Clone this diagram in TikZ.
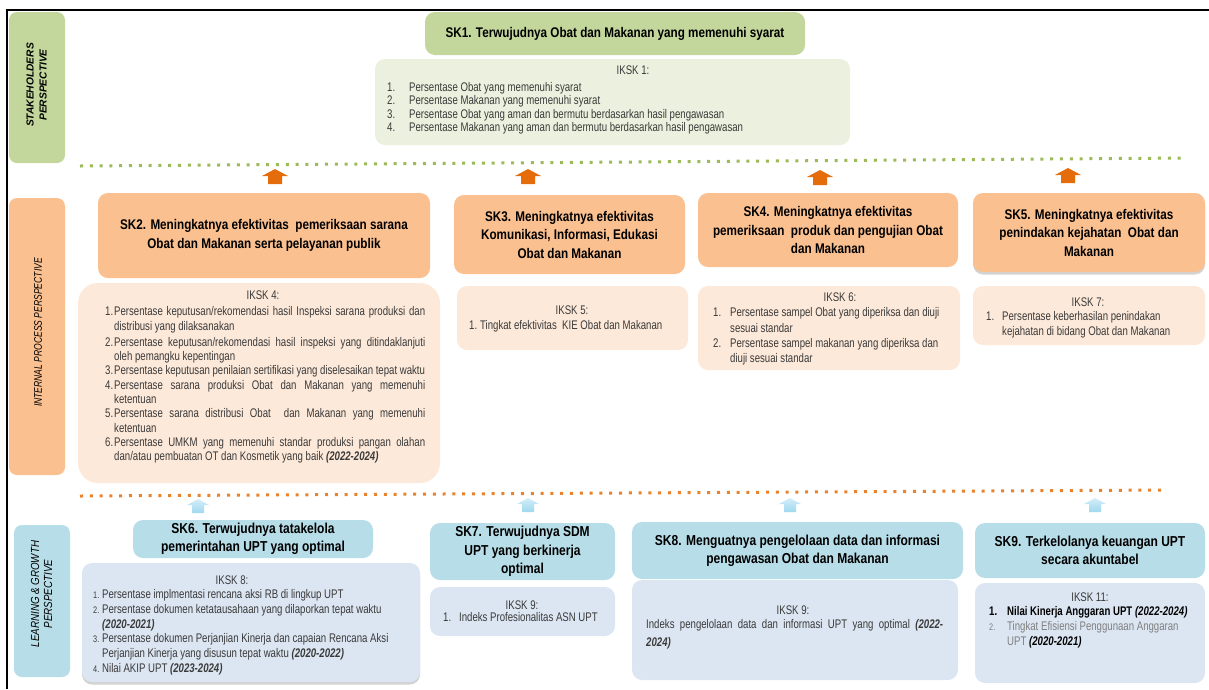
\documentclass[tikz,border=0pt]{standalone}
\usepackage{fontspec}
\setmainfont{Liberation Sans}[FakeStretch=0.77]
\newfontfamily\titlefont{Liberation Sans}[FakeStretch=0.835]
\newfontfamily\plainfont{Liberation Sans}
\usetikzlibrary{shadows}

\definecolor{skgreen}{HTML}{C3D69B}
\definecolor{ikgreen}{HTML}{EBF1DE}
\definecolor{skorange}{HTML}{FAC090}
\definecolor{ikorange}{HTML}{FDE9D9}
\definecolor{skblue}{HTML}{B7DEE8}
\definecolor{ikblue}{HTML}{DCE6F2}
\definecolor{arrorange}{HTML}{E46C0A}
\definecolor{arrblue}{HTML}{9FD8EF}
\definecolor{dotgreen}{HTML}{9BBB59}
\definecolor{dotorange}{HTML}{E9822C}
\definecolor{itemgrey}{HTML}{3A3A3A}
\definecolor{softgrey}{HTML}{7F7F7F}

\hyphenpenalty=10000
\exhyphenpenalty=10000
\tolerance=9999
\emergencystretch=20pt
\newcommand{\yr}[1]{\textbf{\textit{#1}}}
\newcommand{\num}[1]{{\fontsize{9.5}{10}\selectfont #1}}

\begin{document}
\begin{tikzpicture}[x=1pt,y=-1pt,
    persp/.style={rounded corners=8pt,inner sep=0pt},
    persptext/.style={rotate=90,align=center,inner sep=0pt},
    sk/.style={rounded corners=10pt,inner sep=0pt,align=center,font=\titlefont\bfseries\fontsize{14}{18.5}\selectfont},
    skbottom/.style={sk,font=\titlefont\bfseries\fontsize{14.4}{18.3}\selectfont},
    iksk/.style={rounded corners=10pt,inner sep=0pt},
    head/.style={inner sep=0pt,text=itemgrey,font=\fontsize{12.5}{14}\selectfont},
    list/.style={inner sep=0pt,anchor=north west,text=itemgrey,font=\fontsize{12.5}{#1}\selectfont},
    list/.default=13.4,
    greendots/.style={dotgreen,line width=3pt,dash pattern=on 3pt off 6.8pt},
    orangedots/.style={dotorange,line width=3pt,dash pattern=on 3pt off 6.8pt},
    orangeup/.pic={\fill[arrorange] (-13,7) -- (0,0) -- (13,7) -- (7,7) -- (7,15) -- (-7,15) -- (-7,7) -- cycle;},
    blueup/.pic={\shade[top color=arrblue!45,bottom color=arrblue] (-11,6) -- (0,0) -- (11,6) -- (6,6) -- (6,14) -- (-6,14) -- (-6,6) -- cycle;}]

  \useasboundingbox (0,0) rectangle (1209,689);
  \draw[line width=2pt] (7,689) -- (7,10) -- (1209,10);

  % perspectives
  \node[persp,fill=skgreen,minimum width=56pt,minimum height=151pt] (stake) at (37,87.5) {};
  \node[persptext,font=\plainfont\bfseries\itshape\fontsize{10.2}{13}\selectfont] (staketext) at (36.5,85)
    {STAKEHOLDERS\\PERSPECTIVE};
  \node[persp,fill=skorange,minimum width=56pt,minimum height=277pt] (intern) at (37,336.5) {};
  \node[persptext,font=\itshape\fontsize{11.1}{13}\selectfont] (interntext) at (38,332.5)
    {INTERNAL PROCESS PERSPECTIVE};
  \node[persp,fill=skblue,minimum width=56pt,minimum height=152pt] (learn) at (42,601) {};
  \node[persptext,font=\titlefont\itshape\fontsize{11.7}{13}\selectfont] (learntext) at (41.5,594)
    {LEARNING \& GROWTH\\PERSPECTIVE};

  % stakeholders
  \node[sk,fill=skgreen,minimum width=380pt,minimum height=43pt] (sk1) at (615,33.5)
    {SK1. Terwujudnya Obat dan Makanan yang memenuhi syarat};
  \node[iksk,fill=ikgreen,minimum width=475pt,minimum height=86pt] (ik1) at (612.5,102) {};
  \node[head] (ik1h) at (633,70) {IKSK 1:};
  \node[list=13.3] (ik1l) at (387,81.9)
    {\begin{tabular}{@{}p{22pt}@{}l@{}}
     1. & Persentase Obat yang memenuhi syarat\\
     2. & Persentase Makanan yang memenuhi syarat\\
     3. & Persentase Obat yang aman dan bermutu berdasarkan hasil pengawasan\\
     4. & Persentase Makanan yang aman dan bermutu berdasarkan hasil pengawasan
     \end{tabular}};

  \draw[greendots] (80,166) -- (1185,158);
  \pic at (275,169) {orangeup};
  \pic at (528,169) {orangeup};
  \pic at (820,170) {orangeup};
  \pic at (1068,168) {orangeup};

  % internal process
  \node[sk,fill=skorange,minimum width=332pt,minimum height=85pt] (sk2) at (264,235.5)
    {SK2. Meningkatnya efektivitas\ \ pemeriksaan sarana\\Obat dan Makanan serta pelayanan publik};
  \node[iksk,fill=ikorange,rounded corners=20pt,minimum width=362pt,minimum height=200pt] (ik4) at (259,383) {};
  \node[head] (ik4h) at (263,295) {IKSK 4:};
  \node[list=14.3] (ik4l) at (105,305.5)
    {\begin{tabular}{@{}p{9pt}@{}p{311pt}@{}}
     1. & Persentase keputusan/rekomendasi hasil Inspeksi sarana produksi dan\linebreak distribusi yang dilaksanakan\\[2pt]
     2. & Persentase keputusan/rekomendasi hasil inspeksi yang ditindaklanjuti\linebreak oleh pemangku kepentingan\\
     3. & Persentase keputusan penilaian sertifikasi yang diselesaikan tepat waktu\\
     4. & Persentase sarana produksi Obat dan Makanan yang memenuhi\linebreak ketentuan\\
     5. & Persentase sarana distribusi Obat\ \ dan Makanan yang memenuhi\linebreak ketentuan\\
     6. & Persentase UMKM yang memenuhi standar produksi pangan olahan\linebreak dan/atau pembuatan OT dan Kosmetik yang baik \yr{(2022-2024)}
     \end{tabular}};

  \node[sk,fill=skorange,minimum width=231pt,minimum height=79pt] (sk3) at (569.5,234.5)
    {SK3. Meningkatnya efektivitas\\Komunikasi, Informasi, Edukasi\\Obat dan Makanan};
  \node[iksk,fill=ikorange,minimum width=231pt,minimum height=64pt] (ik5) at (572.5,318) {};
  \node[head] (ik5h) at (572,310) {IKSK 5:};
  \node[list] (ik5l) at (469,320.1)
    {\begin{tabular}{@{}p{11pt}@{}l@{}}
     1. & Tingkat efektivitas\ \ KIE Obat dan Makanan
     \end{tabular}};

  \node[sk,fill=skorange,minimum width=260pt,minimum height=74pt] (sk4) at (828,230)
    {SK4. Meningkatnya efektivitas\\pemeriksaan\ \ produk dan pengujian Obat\\dan Makanan};
  \node[iksk,fill=ikorange,minimum width=262pt,minimum height=84pt] (ik6) at (829,328) {};
  \node[head] (ik6h) at (840,297) {IKSK 6:};
  \node[list=15.3] (ik6l) at (713,305.8)
    {\begin{tabular}{@{}p{17pt}@{}l@{}}
     1. & Persentase sampel Obat yang diperiksa dan diuji\\
        & sesuai standar\\
     2. & Persentase sampel makanan yang diperiksa dan\\
        & diuji sesuai standar
     \end{tabular}};

  \node[sk,fill=skorange,minimum width=232pt,minimum height=79pt,
        drop shadow={shadow xshift=0pt,shadow yshift=-2.5pt,opacity=.35}] (sk5) at (1089,232.5)
    {SK5. Meningkatnya efektivitas\\penindakan kejahatan\ \ Obat dan\\Makanan};
  \node[iksk,fill=ikorange,minimum width=232pt,minimum height=59pt] (ik7) at (1089,315.5) {};
  \node[head] (ik7h) at (1088,302) {IKSK 7:};
  \node[list=15] (ik7l) at (986,310)
    {\begin{tabular}{@{}p{16pt}@{}l@{}}
     1. & Persentase keberhasilan penindakan\\
        & kejahatan di bidang Obat dan Makanan
     \end{tabular}};

  \draw[orangedots] (80,496) -- (1165,490);
  \pic at (198,499) {blueup};
  \pic at (528,498) {blueup};
  \pic at (790,498) {blueup};
  \pic at (1095,498) {blueup};

  % learning and growth
  \node[skbottom,fill=skblue,minimum width=240pt,minimum height=38pt] (sk6) at (253,539)
    {SK6. Terwujudnya tatakelola\\pemerintahan UPT yang optimal};
  \node[iksk,fill=ikblue,minimum width=338pt,minimum height=119pt,
        drop shadow={shadow xshift=0pt,shadow yshift=-2.5pt,opacity=.35}] (ik8) at (251,622.5) {};
  \node[head] (ik8h) at (232,580) {IKSK 8:};
  \node[list=14.7] (ik8l) at (93,588.2)
    {\begin{tabular}{@{}p{9pt}@{}l@{}}
     \num{1.} & Persentase implmentasi rencana aksi RB di lingkup UPT\\
     \num{2.} & Persentase dokumen ketatausahaan yang dilaporkan tepat waktu\\
              & \yr{(2020-2021)}\\
     \num{3.} & Persentase dokumen Perjanjian Kinerja dan capaian Rencana Aksi\\
              & Perjanjian Kinerja yang disusun tepat waktu \yr{(2020-2022)}\\
     \num{4.} & Nilai AKIP UPT \yr{(2023-2024)}
     \end{tabular}};

  \node[skbottom,fill=skblue,minimum width=185pt,minimum height=57pt] (sk7) at (522.5,551.5)
    {SK7. Terwujudnya SDM\\UPT yang berkinerja\\optimal};
  \node[iksk,fill=ikblue,minimum width=185pt,minimum height=49pt] (ik9a) at (522.5,611.5) {};
  \node[head] (ik9ah) at (522,605) {IKSK 9:};
  \node[list] (ik9al) at (443,612.1)
    {\begin{tabular}{@{}p{16pt}@{}l@{}}
     1. & Indeks Profesionalitas ASN UPT
     \end{tabular}};

  \node[skbottom,fill=skblue,minimum width=331pt,minimum height=57pt] (sk8) at (797.5,550.5)
    {SK8. Menguatnya pengelolaan data dan informasi\\pengawasan Obat dan Makanan};
  \node[iksk,fill=ikblue,minimum width=326pt,minimum height=100pt] (ik9b) at (795,630) {};
  \node[head] (ik9bh) at (793,610) {IKSK 9:};
  \node[list=17.5] (ik9bl) at (646,616.2)
    {\begin{tabular}{@{}p{297pt}@{}}
     Indeks pengelolaan data dan informasi UPT yang optimal \yr{(2022-}\linebreak\yr{2024)}
     \end{tabular}};

  \node[skbottom,fill=skblue,minimum width=230pt,minimum height=55pt] (sk9) at (1090,550.5)
    {SK9. Terkelolanya keuangan UPT\\secara akuntabel};
  \node[iksk,fill=ikblue,minimum width=230pt,minimum height=100pt] (ik11) at (1090,633) {};
  \node[head] (ik11h) at (1090,597) {IKSK 11:};
  \node[list=15] (ik11l) at (989,605)
    {\begin{tabular}{@{}p{18pt}@{}l@{}}
     \leavevmode\textcolor{black}{\bfseries 1.} & \textcolor{black}{\bfseries Nilai Kinerja Anggaran UPT \textit{(2022-2024)}}\\
     \leavevmode\textcolor{softgrey}{\num{2.}} & \textcolor{softgrey}{Tingkat Efisiensi Penggunaan Anggaran}\\
        & \textcolor{softgrey}{UPT} \textcolor{black}{\yr{(2020-2021)}}
     \end{tabular}};
\end{tikzpicture}
\end{document}
